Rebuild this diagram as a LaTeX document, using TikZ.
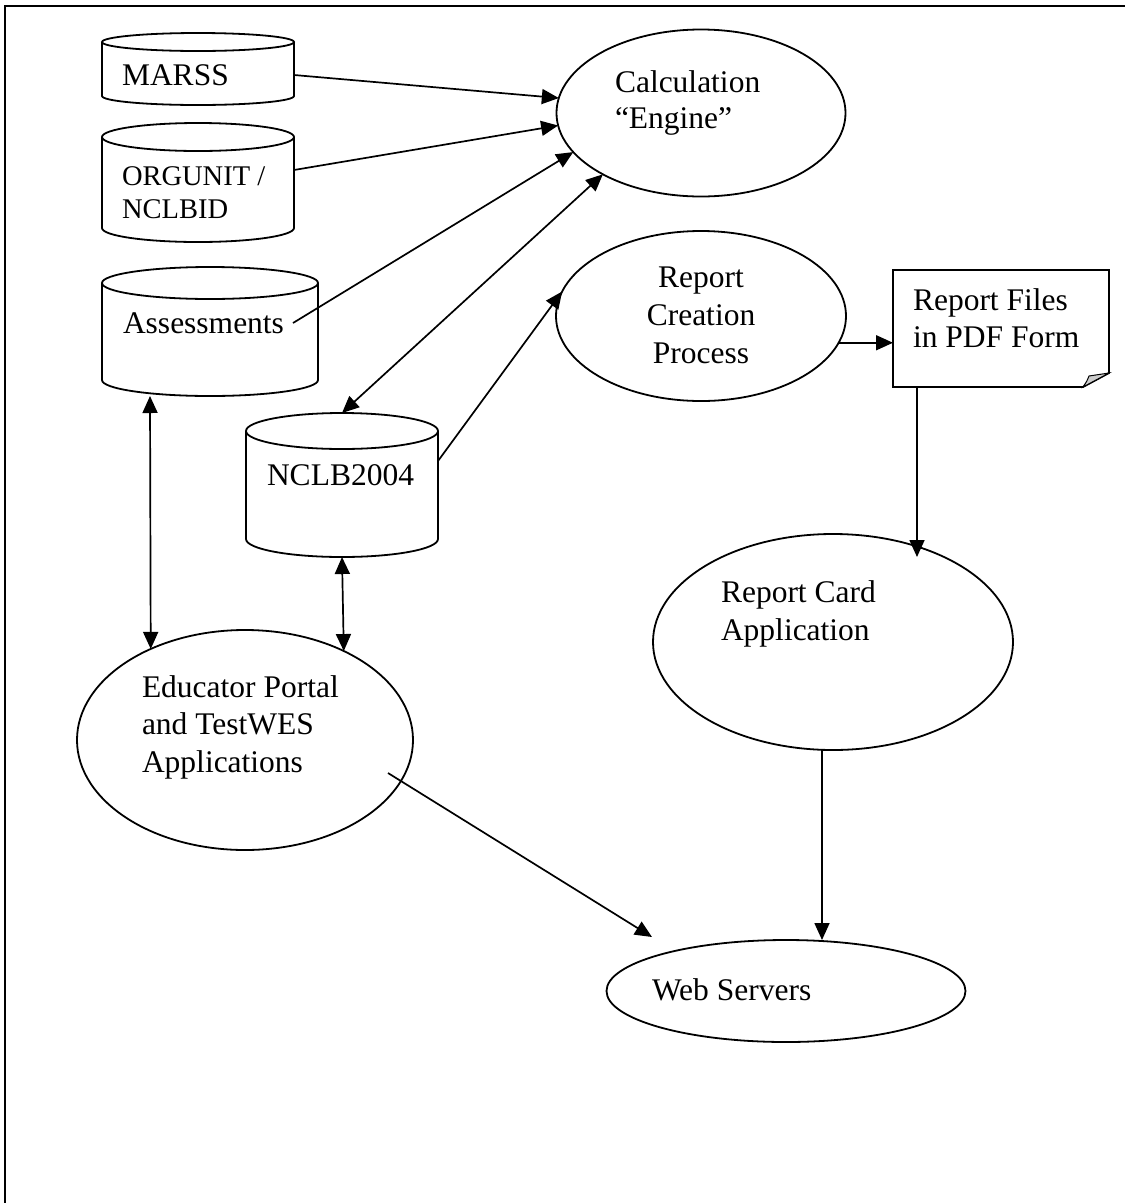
\documentclass[tikz,border=0pt]{standalone}
\usepackage{fontspec}
\setmainfont{Liberation Serif}
\usetikzlibrary{arrows.meta,calc,shapes.geometric}
\newcommand\drawcyl[3]{%
  \draw[shapeline, fill=white] ([yshift=-#3pt]#1.north west) -- ([yshift=#3pt]#1.south west)
     arc[start angle=180, end angle=360, x radius=#2, y radius=#3] -- ([yshift=-#3pt]#1.north east);
  \draw[shapeline, fill=white] ([yshift=-#3pt]#1.north) ellipse[x radius=#2, y radius=#3];}
\newcommand\txtlines[2]{\begin{tabular}[t]{@{}#1@{}}#2\end{tabular}}
\begin{document}
\begin{tikzpicture}[x=1pt,y=1pt,
  shapeline/.style={line width=1.8pt},
  cylbox/.style={rectangle, inner sep=0pt, outer sep=0pt},
  ell/.style={ellipse, draw, line width=1.8pt, inner sep=0pt, outer sep=0pt},
  txt/.style={inner sep=0pt, outer sep=0pt, anchor=base west, font=\fontsize{31.5}{36}\selectfont},
  arr/.style={line width=1.7pt, -{Triangle[length=17pt,width=15pt]}},
  darr/.style={line width=1.7pt, {Triangle[length=17pt,width=15pt]}-{Triangle[length=17pt,width=15pt]}}]
\useasboundingbox (0,0) rectangle (1125,-1203);
\fill[white] (0,0) rectangle (1125,-1203);
\draw[line width=2.2pt] (5,-1203) -- (5,-6) -- (1125,-6);

% cylinders
\node[cylbox, minimum width=192pt, minimum height=72pt] (marss) at (198,-69) {};
\drawcyl{marss}{96}{9}
\node[cylbox, minimum width=192pt, minimum height=119pt] (org) at (198,-182.5) {};
\drawcyl{org}{96}{14}
\node[cylbox, minimum width=216pt, minimum height=129pt] (assess) at (210,-331.5) {};
\drawcyl{assess}{108}{16}
\node[cylbox, minimum width=192pt, minimum height=144pt] (nclb) at (342,-485) {};
\drawcyl{nclb}{96}{18}

% ellipses
\node[ell, minimum width=289pt, minimum height=167pt] (calc) at (701,-113) {};
\node[ell, minimum width=290pt, minimum height=170pt] (rcp) at (701,-316) {};
\node[ell, minimum width=360pt, minimum height=216pt] (rcard) at (833,-642) {};
\node[ell, minimum width=336pt, minimum height=220pt] (edu) at (245,-740) {};
\node[ell, minimum width=359pt, minimum height=102pt] (web) at (786,-991) {};

% document
\node[cylbox, minimum width=216pt, minimum height=117pt] (files) at (1001,-328.5) {};
\draw[shapeline, fill=white] (files.north west) -- (files.north east) -- ([yshift=14pt]files.south east)
  -- ([xshift=-26pt]files.south east) -- (files.south west) -- cycle;
\draw[line width=1pt, fill=gray!40] ([yshift=14pt]files.south east) -- ([xshift=-26pt]files.south east)
  .. controls ([xshift=-22pt,yshift=6pt]files.south east) .. ([xshift=-20pt,yshift=11pt]files.south east) -- cycle;

% texts
\node[txt] (marsst) at (122,-85) {MARSS};
\node[txt, font=\fontsize{28.5}{33}\selectfont] (orgt) at (122,-185) {\txtlines{l}{ORGUNIT /\\NCLBID}};
\node[txt] (assesst) at (123,-333) {Assessments};
\node[txt] (nclbt) at (267,-485) {NCLB2004};
\node[txt, font=\fontsize{31.5}{36}\selectfont] (calct) at (615,-92) {\txtlines{l}{Calculation\\“Engine”}};
\node[txt, anchor=base, font=\fontsize{31.5}{38}\selectfont] (rcpt) at (701,-287) {\txtlines{c}{Report\\Creation\\Process}};
\node[txt, font=\fontsize{31.5}{37}\selectfont] (filest) at (913,-310) {\txtlines{l}{Report Files\\in PDF Form}};
\node[txt, font=\fontsize{31.5}{38}\selectfont] (rcardt) at (721,-602) {\txtlines{l}{Report Card\\Application}};
\node[txt, font=\fontsize{31.5}{37.5}\selectfont] (edut) at (142,-697) {\txtlines{l}{Educator Portal\\and TestWES\\Applications}};
\node[txt] (webt) at (652,-1000) {Web Servers};

% connectors
\draw[arr] ([yshift=-6pt]marss.east) -- (calc.174.8);
\draw[arr] ([yshift=12.5pt]org.east) -- (calc.185.2);
\draw[arr] ($(assess.center)+(83,8.5)$) -- (calc.197.3);
\draw[darr] (nclb.north) -- (calc.212.3);
\draw[arr] ([yshift=24pt]nclb.east) -- (rcp.170.2);
\draw[arr] (rcp.349.8) -- (rcp.349.8 -| files.west);
\draw[arr] ([xshift=-84pt]files.south) -- ($(rcard.center)+(84,85)$);
\draw[arr] ([xshift=-11pt]rcard.south) -- ([xshift=-11pt]rcard.south |- web.north);
\draw[darr] ([xshift=-60pt]assess.south) -- (edu.136.5);
\draw[darr] (nclb.south) -- (edu.42.9);
\draw[arr] ($(edu.center)+(143,-33)$) -- ($(web.center)+(-134,54)$);
\end{tikzpicture}
\end{document}
